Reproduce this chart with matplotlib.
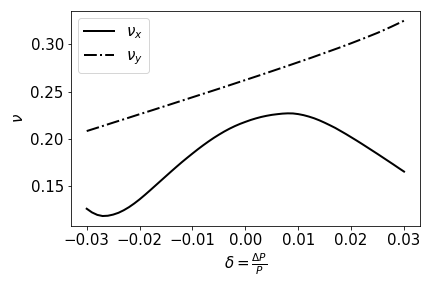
import matplotlib
matplotlib.use("Agg")
import matplotlib.pyplot as plt
import numpy as np

# relative momentum deviation, 0.001 steps from -0.03 to 0.03
delta_x = np.linspace(-0.03, 0.03, 61)

# horizontal tune at each delta_x
nu_x = [
    0.1263, 0.1224, 0.1198, 0.1186, 0.1189, 0.1201, 0.1220, 0.1247,
    0.1280, 0.1319, 0.1362, 0.1409, 0.1458, 0.1508, 0.1558, 0.1608,
    0.1658, 0.1707, 0.1755, 0.1801, 0.1846, 0.1890, 0.1932, 0.1972,
    0.2010, 0.2045, 0.2078, 0.2108, 0.2135, 0.2159, 0.2180, 0.2200,
    0.2217, 0.2232, 0.2244, 0.2254, 0.2261, 0.2267, 0.2270, 0.2269,
    0.2262, 0.2251, 0.2236, 0.2218, 0.2196, 0.2171, 0.2144, 0.2116,
    0.2084, 0.2052, 0.2018, 0.1984, 0.1949, 0.1913, 0.1877, 0.1841,
    0.1804, 0.1767, 0.1730, 0.1692, 0.1655,
]

# vertical tune, 0.0025 steps
delta_y = np.linspace(-0.03, 0.03, 25)
nu_y = [
    0.2083, 0.2127, 0.2172, 0.2216, 0.2261, 0.2305, 0.2350, 0.2395,
    0.2440, 0.2485, 0.2530, 0.2576, 0.2622, 0.2668, 0.2715, 0.2762,
    0.2810, 0.2858, 0.2908, 0.2958, 0.3010, 0.3064, 0.3120, 0.3182, 0.3248,
]

fig, ax = plt.subplots(figsize=(6, 4), dpi=72)
fig.subplots_adjust(left=0.164, right=0.972, top=0.962, bottom=0.216)

ax.plot(delta_x, nu_x, "k-", lw=2, label=r"$\nu_x$")
ax.plot(delta_y, nu_y, "k-.", lw=2, label=r"$\nu_y$")

ax.set_xlabel(r"$\delta = \frac{\Delta P}{P}$", fontsize=15)
ax.set_ylabel(r"$\nu$", fontsize=15)
ax.tick_params(labelsize=15)
ax.legend(loc="upper left", fontsize=15)

fig.savefig("out.png")
plt.close(fig)
